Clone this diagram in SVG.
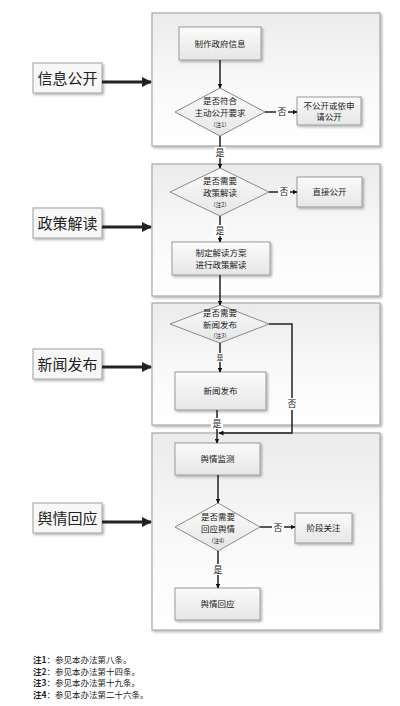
<svg xmlns="http://www.w3.org/2000/svg" width="400" height="706" viewBox="0 0 400 706">
<defs>
<linearGradient id="gSec" x1="0" y1="0" x2="0" y2="1">
<stop offset="0" stop-color="#ebebeb"/><stop offset="0.5" stop-color="#f8f8f8"/><stop offset="1" stop-color="#ffffff"/>
</linearGradient>
<linearGradient id="gNode" x1="0" y1="0" x2="0" y2="1">
<stop offset="0" stop-color="#fbfbfb"/><stop offset="1" stop-color="#e6e6e6"/>
</linearGradient>
<marker id="ah" viewBox="0 0 10 10" refX="9" refY="5" markerWidth="5" markerHeight="5" orient="auto" markerUnits="userSpaceOnUse">
<path d="M0,0 L10,5 L0,10 z" fill="#111"/>
</marker>
<marker id="ahBig" viewBox="0 0 10 10" refX="9" refY="5" markerWidth="10" markerHeight="10" orient="auto" markerUnits="userSpaceOnUse">
<path d="M0,0 L10,5 L0,10 z" fill="#222"/>
</marker>
<filter id="sh" x="-10%" y="-10%" width="130%" height="130%">
<feDropShadow dx="1.5" dy="1.5" stdDeviation="0.8" flood-color="#000" flood-opacity="0.3"/>
</filter>
</defs>
<style>
.sec{fill:url(#gSec);stroke:#a8a8a8;stroke-width:1.2;filter:url(#sh)}
.node{fill:url(#gNode);stroke:#9a9a9a;stroke-width:1;filter:url(#sh)}
.dia{fill:url(#gNode);stroke:#8a8a8a;stroke-width:1}
.lab{fill:#f7f7f7;stroke:#a0a0a0;stroke-width:1;filter:url(#sh)}
text{font-family:"Noto Sans CJK SC","Noto Sans",sans-serif;fill:#222}
.t{font-size:8.5px;text-anchor:middle}
.n{font-size:5.5px;text-anchor:middle}
.big{font-size:15px;text-anchor:middle}
.lbl{font-size:9px;text-anchor:middle}
.note{font-size:8.5px}
.c{fill:none;stroke:#222;stroke-width:1.5}
.cb{fill:none;stroke:#222;stroke-width:3}
</style>
<rect width="400" height="706" fill="#fff"/>

<g id="sections">
<rect class="sec" x="152" y="13" width="228" height="133"/>
<rect class="sec" x="152" y="164" width="228" height="132"/>
<rect class="sec" x="152" y="303" width="228" height="122"/>
<rect class="sec" x="152" y="433" width="228" height="197"/>
</g>

<g id="lab1"><rect class="lab" x="33" y="63" width="69" height="30"/><text class="big" x="67.5" y="83.5">信息公开</text></g>
<g id="lab2"><rect class="lab" x="33" y="208" width="69" height="30"/><text class="big" x="67.5" y="228.5">政策解读</text></g>
<g id="lab3"><rect class="lab" x="33" y="349" width="69" height="30"/><text class="big" x="67.5" y="369.5">新闻发布</text></g>
<g id="lab4"><rect class="lab" x="33" y="503" width="69" height="30"/><text class="big" x="67.5" y="523.5">舆情回应</text></g>

<g id="n1"><rect class="node" x="179" y="27" width="82" height="33"/><text class="t" x="220" y="46.5">制作政府信息</text></g>
<g id="d1"><polygon class="dia" points="220,88 265,112 220,136 175,112"/><text class="t" x="220" y="104">是否符合</text><text class="t" x="220" y="116">主动公开要求</text><text class="n" x="220" y="127">（注1）</text></g>
<g id="n2"><rect class="node" x="297" y="97" width="64" height="28"/><text class="t" x="329" y="109">不公开或依申</text><text class="t" x="329" y="120">请公开</text></g>

<g id="d2"><polygon class="dia" points="220,168 269,192 220,216 170,192"/><text class="t" x="220" y="184">是否需要</text><text class="t" x="220" y="196">政策解读</text><text class="n" x="220" y="207">（注2）</text></g>
<g id="n3"><rect class="node" x="297" y="177" width="65" height="30"/><text class="t" x="329.5" y="195">直接公开</text></g>
<g id="n4"><rect class="node" x="172" y="242" width="98" height="33"/><text class="t" x="221" y="256">制定解读方案</text><text class="t" x="221" y="268">进行政策解读</text></g>

<g id="d3"><polygon class="dia" points="220,305 269,324 220,343 170,324"/><text class="t" x="220" y="316">是否需要</text><text class="t" x="220" y="328">新闻发布</text><text class="n" x="220" y="338">（注3）</text></g>
<g id="n5"><rect class="node" x="175" y="372" width="91" height="38"/><text class="t" x="220.5" y="394">新闻发布</text></g>

<g id="n6"><rect class="node" x="175" y="443" width="85" height="32"/><text class="t" x="217.5" y="462">舆情监测</text></g>
<g id="d4"><polygon class="dia" points="218,503 260,527 218,551 175,527"/><text class="t" x="218" y="520">是否需要</text><text class="t" x="218" y="532">回应舆情</text><text class="n" x="218" y="543">（注4）</text></g>
<g id="n7"><rect class="node" x="295" y="513" width="57" height="30"/><text class="t" x="323.5" y="531">阶段关注</text></g>
<g id="n8"><rect class="node" x="175" y="588" width="85" height="32"/><text class="t" x="217.5" y="607">舆情回应</text></g>

<g id="connectors">
<line class="cb" x1="102" y1="82" x2="151" y2="82" marker-end="url(#ahBig)"/>
<line class="cb" x1="102" y1="227" x2="151" y2="227" marker-end="url(#ahBig)"/>
<line class="cb" x1="102" y1="367" x2="151" y2="367" marker-end="url(#ahBig)"/>
<line class="cb" x1="102" y1="522" x2="151" y2="522" marker-end="url(#ahBig)"/>

<line class="c" x1="220" y1="60" x2="220" y2="88" marker-end="url(#ah)"/>
<line class="c" x1="265" y1="112" x2="297" y2="112" marker-end="url(#ah)"/>
<line class="c" x1="220" y1="136" x2="220" y2="168" marker-end="url(#ah)"/>
<line class="c" x1="269" y1="192" x2="297" y2="192" marker-end="url(#ah)"/>
<line class="c" x1="220" y1="216" x2="220" y2="242" marker-end="url(#ah)"/>
<line class="c" x1="220" y1="275" x2="220" y2="305" marker-end="url(#ah)"/>
<line class="c" x1="220" y1="343" x2="220" y2="372" marker-end="url(#ah)"/>
<polyline class="c" points="269,324 292,324 292,433 219,433" marker-end="url(#ah)"/>
<line class="c" x1="217" y1="410" x2="217" y2="443" marker-end="url(#ah)"/>
<line class="c" x1="218" y1="475" x2="218" y2="503" marker-end="url(#ah)"/>
<line class="c" x1="260" y1="527" x2="295" y2="527" marker-end="url(#ah)"/>
<line class="c" x1="218" y1="551" x2="218" y2="588" marker-end="url(#ah)"/>

<g id="clabels">
<rect x="276" y="106" width="12" height="11" fill="#fff"/><text class="lbl" x="282" y="115">否</text>
<rect x="214" y="147" width="12" height="11" fill="#fff"/><text class="lbl" x="220" y="156">是</text>
<rect x="278" y="186" width="12" height="11" fill="#fff"/><text class="lbl" x="284" y="195">否</text>
<rect x="214" y="225" width="12" height="11" fill="#fff"/><text class="lbl" x="220" y="234">是</text>
<rect x="215" y="353" width="10" height="9" fill="#f8f8f8"/><text class="n" x="220" y="360" style="font-size:6.5px">是</text>
<rect x="286" y="398" width="12" height="12" fill="#fff"/><text class="lbl" x="292" y="407">否</text>
<rect x="211" y="418" width="12" height="11" fill="#fff"/><text class="lbl" x="217" y="427">是</text>
<rect x="272" y="522" width="12" height="11" fill="#fff"/><text class="lbl" x="278" y="531">否</text>
<rect x="212" y="564" width="12" height="11" fill="#fff"/><text class="lbl" x="218" y="573">是</text>
</g>
</g>

<g id="notes">
<text class="note" x="33" y="663"><tspan font-weight="bold">注1</tspan>：参见本办法第八条。</text>
<text class="note" x="33" y="675"><tspan font-weight="bold">注2</tspan>：参见本办法第十四条。</text>
<text class="note" x="33" y="686"><tspan font-weight="bold">注3</tspan>：参见本办法第十九条。</text>
<text class="note" x="33" y="698"><tspan font-weight="bold">注4</tspan>：参见本办法第二十六条。</text>
</g>
</svg>
